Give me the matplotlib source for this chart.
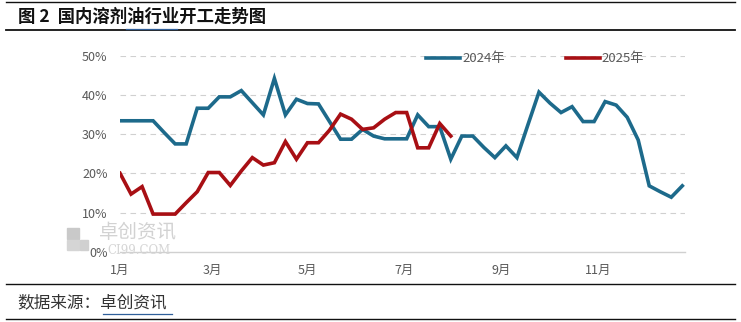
"""国内溶剂油行业开工走势图: 2024 vs 2025 weekly operating rate."""

import numpy as np
import matplotlib
matplotlib.use('Agg')
import matplotlib.pyplot as plt
from matplotlib.lines import Line2D
from matplotlib.patches import Rectangle

plt.rcParams['font.family'] = ['Noto Sans CJK SC', 'DejaVu Sans']

# weekly operating rate, %
rate_2024 = [33.4, 33.4, 33.4, 33.4, 30.4, 27.5, 27.5, 36.6, 36.6, 39.5,
             39.5, 41.1, 38.0, 34.9, 44.2, 34.9, 38.9, 37.8, 37.7, 33.2,
             28.7, 28.7, 31.2, 29.5, 28.8, 28.8, 28.8, 34.9, 31.9, 31.9,
             23.6, 29.5, 29.5, 26.6, 24.0, 27.0, 24.0, 32.4, 40.7, 37.9,
             35.5, 37.0, 33.2, 33.2, 38.3, 37.4, 34.3, 28.5, 16.8, 15.3,
             13.9, 16.8]
rate_2025 = [20.0, 14.7, 16.6, 9.6, 9.6, 9.6, 12.5, 15.3, 20.2, 20.2,
             16.9, 20.6, 24.0, 22.1, 22.7, 28.1, 23.6, 27.8, 27.8, 31.0,
             35.1, 33.8, 31.2, 31.6, 33.8, 35.5, 35.5, 26.5, 26.5, 32.7,
             29.5]
month_labels = ['1月', '3月', '5月', '7月', '9月', '11月']
month_pos = [0, 8.35, 17.0, 25.8, 34.6, 43.4]   # in weeks
y_ticks = [0, 10, 20, 30, 40, 50]

blue = '#1d6a8b'
red = '#a80f14'
grey_text = '#595959'

fig = plt.figure(figsize=(7.41, 3.22), dpi=100)
ax = fig.add_axes([0.162, 0.2183, 0.7625, 0.6087])

ax.plot(np.arange(len(rate_2024)), rate_2024, color=blue, linewidth=2.6,
        solid_joinstyle='miter', label='2024年', zorder=3)
ax.plot(np.arange(len(rate_2025)), rate_2025, color=red, linewidth=2.6,
        solid_joinstyle='miter', label='2025年', zorder=4)

ax.set_xlim(0, 51.25)
ax.set_ylim(0, 50)
ax.set_yticks(y_ticks)
ax.set_yticklabels([f'{v}%' for v in y_ticks])
ax.set_xticks(month_pos)
ax.set_xticklabels(month_labels)
ax.tick_params(axis='both', length=0, labelsize=9, labelcolor=grey_text)
ax.tick_params(axis='y', pad=9)
ax.tick_params(axis='x', pad=9)
for y in y_ticks[1:]:
    ax.axhline(y, color='#d0d0d0', linewidth=0.8, linestyle=(0, (5, 4)), zorder=1)
for side in ['left', 'right', 'top']:
    ax.spines[side].set_visible(False)
ax.spines['bottom'].set_color('#d0d0d0')
ax.spines['bottom'].set_linewidth(1.0)

legend = ax.legend(loc='center left', bbox_to_anchor=(0.532, 0.985), ncol=2,
                   frameon=False, fontsize=9.5, handlelength=2.6, handletextpad=0.15,
                   columnspacing=4.6, borderaxespad=0)
for text in legend.get_texts():
    text.set_color(grey_text)

# watermark
for (x0, y0, w, h, c) in [(67, 228, 12, 11, '#c9c9c9'), (67, 240, 12, 10, '#d5d5d5'),
                         (80, 240, 8, 10, '#d0d0d0')]:
    fig.patches.append(Rectangle((x0 / 741, 1 - (y0 + h) / 322), w / 741, h / 322,
                                 transform=fig.transFigure, color=c, zorder=0))
fig.text(99 / 741, 1 - 232 / 322, '卓创资讯', fontsize=14, color='#d2d2d2',
         va='center', ha='left', zorder=0)
fig.text(107 / 741, 1 - 250 / 322, 'CI99.COM', fontsize=8.5, color='#d6d6d6',
         va='center', ha='left', family='DejaVu Serif', zorder=0)

# title, source and rules
fig.text(18 / 741, 1 - 17 / 322, '图 2  国内溶剂油行业开工走势图', fontsize=12.5,
         fontweight='bold', va='center', ha='left', color='#111111')
fig.text(17 / 741, 1 - 303 / 322, '数据来源：卓创资讯', fontsize=12,
         va='center', ha='left', color='#333333')
for y, lw in [(2, 1.0), (30, 1.3), (284, 1.0), (319, 1.0)]:
    fig.lines.append(Line2D([6 / 741, 735 / 741], [1 - y / 322] * 2,
                            transform=fig.transFigure, color='#111111', linewidth=lw))
for x0, x1, y in [(126, 177, 28.5), (103, 172, 314)]:
    fig.lines.append(Line2D([x0 / 741, x1 / 741], [1 - y / 322] * 2,
                            transform=fig.transFigure, color='#2f5f9a', linewidth=0.9))

fig.savefig('out.png', dpi=100)
plt.close(fig)
